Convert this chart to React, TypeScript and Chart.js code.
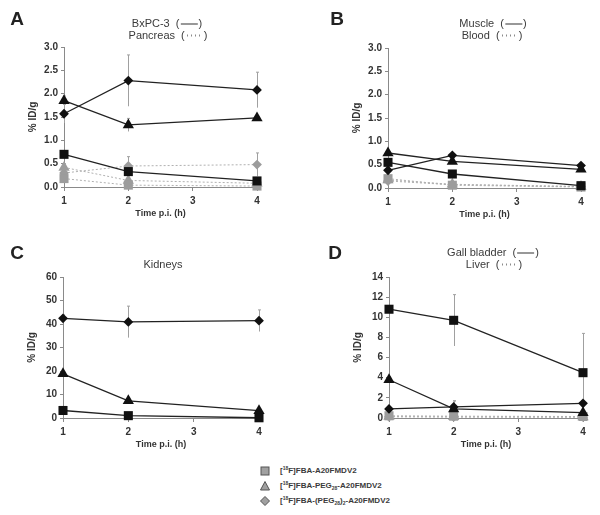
import React, { useEffect, useRef } from "react";
import { Chart, registerables } from "chart.js";

Chart.register(...registerables);

// ---------- data ----------
const hours = [1, 2, 4];
const xTickValues = [1, 2, 3, 4];

// Panel A: BxPC-3 (solid) / Pancreas (dotted)
const aTumorFBA = [0.7, 0.33, 0.13];
const aTumorFBAErr = [0.05, 0.05, 0.03];
const aTumorPEG = [1.85, 1.33, 1.48];
const aTumorPEGErr = [0.1, 0.14, 0.05];
const aTumorPEG2 = [1.57, 2.28, 2.08];
const aTumorPEG2Err = [0.2, 0.55, 0.38];
const aPancFBA = [0.18, 0.04, 0.02];
const aPancFBAErr = [0.05, 0.02, 0.01];
const aPancPEG = [0.42, 0.14, 0.08];
const aPancPEGErr = [0.08, 0.05, 0.02];
const aPancPEG2 = [0.3, 0.45, 0.48];
const aPancPEG2Err = [0.1, 0.2, 0.25];

// Panel B: Muscle (solid) / Blood (dotted)
const bMuscFBA = [0.55, 0.3, 0.05];
const bMuscFBAErr = [0.05, 0.04, 0.01];
const bMuscPEG = [0.75, 0.57, 0.4];
const bMuscPEGErr = [0.06, 0.05, 0.04];
const bMuscPEG2 = [0.38, 0.7, 0.48];
const bMuscPEG2Err = [0.05, 0.06, 0.04];
const bBloodFBA = [0.2, 0.06, 0.02];
const bBloodFBAErr = [0.03, 0.01, 0.01];
const bBloodPEG = [0.17, 0.08, 0.03];
const bBloodPEGErr = [0.02, 0.01, 0.01];
const bBloodPEG2 = [0.15, 0.07, 0.03];
const bBloodPEG2Err = [0.02, 0.01, 0.01];

// Panel C: Kidneys
const cKidFBA = [3.2, 1.0, 0.1];
const cKidFBAErr = [0.5, 0.2, 0.05];
const cKidPEG = [18.8, 7.3, 3.1];
const cKidPEGErr = [1.0, 0.8, 0.5];
const cKidPEG2 = [42.4, 40.9, 41.4];
const cKidPEG2Err = [1.5, 6.7, 4.6];

// Panel D: Gall bladder (solid) / Liver (dotted)
const dGallFBA = [10.8, 9.7, 4.5];
const dGallFBAErr = [0.3, 2.55, 3.9];
const dGallPEG = [3.8, 0.9, 0.53];
const dGallPEGErr = [0.3, 0.8, 0.1];
const dGallPEG2 = [0.9, 1.1, 1.46];
const dGallPEG2Err = [0.2, 0.6, 0.2];
const dLiverFBA = [0.22, 0.18, 0.15];
const dLiverFBAErr = [0.03, 0.03, 0.02];
const dLiverPEG = [0.15, 0.12, 0.1];
const dLiverPEGErr = [0.02, 0.02, 0.02];
const dLiverPEG2 = [0.12, 0.1, 0.08];
const dLiverPEG2Err = [0.02, 0.02, 0.02];

const compoundLabels = ["FBA-A20FMDV2", "FBA-PEG28-A20FMDV2", "FBA-(PEG28)2-A20FMDV2"];

// ---------- helpers ----------
const FONT = "'Liberation Sans', Arial, sans-serif";
const BLACK = "#111111";
const GRAY = "#9c9c9c";

type Shape = "rect" | "triangle" | "rectRot";
const radiusFor: Record<Shape, number> = { rect: 6.4, triangle: 6.5, rectRot: 4.9 };

function series(label: string, values: number[], errs: number[], shape: Shape, solid: boolean) {
  return {
    label,
    data: hours.map((h, i) => ({ x: h, y: values[i] })),
    errors: errs,
    borderColor: solid ? "#222222" : "#b0b0b0",
    borderWidth: solid ? 1.3 : 1,
    borderDash: solid ? [] : [2, 2],
    pointStyle: shape,
    pointRadius: radiusFor[shape],
    pointBackgroundColor: solid ? BLACK : GRAY,
    pointBorderColor: solid ? BLACK : GRAY,
    pointBorderWidth: 0,
    clip: false as any,
    tension: 0,
  };
}

const errorBarPlugin = {
  id: "errorBars",
  beforeDatasetsDraw(chart: any) {
    const { ctx } = chart;
    const xs = chart.scales.x;
    const ys = chart.scales.y;
    ctx.save();
    ctx.strokeStyle = "#a0a0a0";
    ctx.lineWidth = 1;
    chart.data.datasets.forEach((ds: any) => {
      const errs: number[] = ds.errors;
      if (!errs) return;
      ds.data.forEach((pt: any, j: number) => {
        const e = errs[j];
        if (!e) return;
        const px = Math.round(xs.getPixelForValue(pt.x)) + 0.5;
        const top = ys.getPixelForValue(pt.y + e);
        const bot = ys.getPixelForValue(Math.max(pt.y - e, ys.min));
        ctx.beginPath();
        ctx.moveTo(px, top);
        ctx.lineTo(px, bot);
        ctx.moveTo(px - 1.5, top);
        ctx.lineTo(px + 1.5, top);
        ctx.stroke();
      });
    });
    ctx.restore();
  },
};

interface PanelProps {
  left: number;
  top: number;
  width: number;
  height: number;
  padding: { left: number; right: number; top: number; bottom: number };
  yMax: number;
  yStep: number;
  decimals: number;
  datasets: any[];
}

function Panel(p: PanelProps) {
  const ref = useRef<HTMLCanvasElement | null>(null);
  useEffect(() => {
    if (!ref.current) return;
    const tickFont = { family: FONT, size: 10, weight: "bold" as const };
    const titleFont = { family: FONT, size: 9, weight: "bold" as const };
    const chart = new Chart(ref.current, {
      type: "line",
      data: { datasets: p.datasets },
      options: {
        animation: false,
        responsive: false,
        devicePixelRatio: 1,
        layout: { padding: p.padding },
        plugins: { legend: { display: false }, tooltip: { enabled: false } },
        scales: {
          x: {
            type: "linear",
            min: 1,
            max: 4,
            afterBuildTicks: (s: any) => {
              s.ticks = xTickValues.map((v) => ({ value: v }));
            },
            ticks: { font: tickFont, color: "#333", padding: 4, callback: (v: any) => String(v) },
            grid: { drawOnChartArea: false, drawTicks: true, tickLength: 4, color: "#8a8a8a" },
            border: { color: "#8a8a8a", width: 1 },
            title: {
              display: true,
              text: "Time p.i. (h)",
              font: titleFont,
              color: "#333",
              padding: { top: 0, bottom: 2 },
            },
            afterFit: (s: any) => {
              s.height = 34;
            },
          },
          y: {
            type: "linear",
            min: 0,
            max: p.yMax,
            ticks: {
              stepSize: p.yStep,
              font: tickFont,
              color: "#333",
              padding: 3,
              callback: (v: any) => Number(v).toFixed(p.decimals),
            },
            grid: { drawOnChartArea: false, drawTicks: true, tickLength: 3, color: "#8a8a8a" },
            border: { color: "#8a8a8a", width: 1 },
            title: {
              display: true,
              text: "% ID/g",
              font: { family: FONT, size: 10, weight: "bold" },
              color: "#333",
              padding: { top: 3, bottom: 0 },
            },
            afterFit: (s: any) => {
              s.width = 40;
            },
          },
        },
      } as any,
      plugins: [errorBarPlugin],
    });
    return () => chart.destroy();
  }, []);
  return (
    <canvas
      ref={ref}
      width={p.width}
      height={p.height}
      style={{ position: "absolute", left: p.left, top: p.top, width: p.width, height: p.height }}
    />
  );
}

function Centered(props: { x: number; y: number; size: number; bold?: boolean; children: React.ReactNode }) {
  return (
    <div
      style={{
        position: "absolute",
        left: props.x,
        top: props.y,
        transform: "translate(-50%, -50%)",
        whiteSpace: "nowrap",
        fontFamily: FONT,
        fontSize: props.size,
        fontWeight: props.bold ? "bold" : "normal",
        color: props.bold ? "#222" : "#3a3a3a",
        lineHeight: 1,
      }}
    >
      {props.children}
    </div>
  );
}

const SolidKey = () => (
  <span
    style={{
      display: "inline-block",
      width: 17,
      height: 0,
      borderTop: "1.5px solid #333",
      verticalAlign: "middle",
      margin: "0 1px",
    }}
  />
);
const DottedKey = () => (
  <span
    style={{
      display: "inline-block",
      width: 16,
      height: 1.5,
      background: "repeating-linear-gradient(to right, #8a8a8a 0 1.5px, transparent 1.5px 4px)",
      verticalAlign: "middle",
      margin: "0 1px 0 2px",
    }}
  />
);

function LegendMarker({ shape }: { shape: Shape }) {
  return (
    <svg width={12} height={12} style={{ position: "absolute", left: -6, top: -6 }}>
      {shape === "rect" && <rect x={2} y={2} width={8} height={8} fill="#a0a0a0" stroke="#555" strokeWidth={1} />}
      {shape === "triangle" && <polygon points="6,1.5 10.5,10 1.5,10" fill="#a0a0a0" stroke="#555" strokeWidth={1} />}
      {shape === "rectRot" && <polygon points="6,1.5 10.5,6 6,10.5 1.5,6" fill="#a0a0a0" stroke="#555" strokeWidth={1} />}
    </svg>
  );
}

function Sup({ children }: { children: React.ReactNode }) {
  return <span style={{ fontSize: 5, position: "relative", top: -3 }}>{children}</span>;
}
function Sub({ children }: { children: React.ReactNode }) {
  return <span style={{ fontSize: 5, position: "relative", top: 2 }}>{children}</span>;
}

function legendText(i: number) {
  if (i === 0)
    return (
      <>
        [<Sup>18</Sup>F]FBA-A20FMDV2
      </>
    );
  if (i === 1)
    return (
      <>
        [<Sup>18</Sup>F]FBA-PEG<Sub>28</Sub>-A20FMDV2
      </>
    );
  return (
    <>
      [<Sup>18</Sup>F]FBA-(PEG<Sub>28</Sub>)<Sub>2</Sub>-A20FMDV2
    </>
  );
}

const legendShapes: Shape[] = ["rect", "triangle", "rectRot"];
const legendRowsY = [471, 486, 501];

export default function App() {
  const dsA = [
    series("A-sq", aTumorFBA, aTumorFBAErr, "rect", true),
    series("A-tri", aTumorPEG, aTumorPEGErr, "triangle", true),
    series("A-dia", aTumorPEG2, aTumorPEG2Err, "rectRot", true),
    series("P-sq", aPancFBA, aPancFBAErr, "rect", false),
    series("P-tri", aPancPEG, aPancPEGErr, "triangle", false),
    series("P-dia", aPancPEG2, aPancPEG2Err, "rectRot", false),
  ];
  const dsB = [
    series("M-sq", bMuscFBA, bMuscFBAErr, "rect", true),
    series("M-tri", bMuscPEG, bMuscPEGErr, "triangle", true),
    series("M-dia", bMuscPEG2, bMuscPEG2Err, "rectRot", true),
    series("B-sq", bBloodFBA, bBloodFBAErr, "rect", false),
    series("B-tri", bBloodPEG, bBloodPEGErr, "triangle", false),
    series("B-dia", bBloodPEG2, bBloodPEG2Err, "rectRot", false),
  ];
  const dsC = [
    series("K-sq", cKidFBA, cKidFBAErr, "rect", true),
    series("K-tri", cKidPEG, cKidPEGErr, "triangle", true),
    series("K-dia", cKidPEG2, cKidPEG2Err, "rectRot", true),
  ];
  const dsD = [
    series("G-sq", dGallFBA, dGallFBAErr, "rect", true),
    series("G-tri", dGallPEG, dGallPEGErr, "triangle", true),
    series("G-dia", dGallPEG2, dGallPEG2Err, "rectRot", true),
    series("L-sq", dLiverFBA, dLiverFBAErr, "rect", false),
    series("L-tri", dLiverPEG, dLiverPEGErr, "triangle", false),
    series("L-dia", dLiverPEG2, dLiverPEG2Err, "rectRot", false),
  ];

  return (
    <div style={{ position: "fixed", left: 0, top: 0, width: 600, height: 515, background: "#fff", overflow: "hidden" }}>
      <Panel left={0} top={0} width={300} height={225} padding={{ left: 24, right: 43, top: 47, bottom: 4 }} yMax={3} yStep={0.5} decimals={1} datasets={dsA} />
      <Panel left={300} top={0} width={300} height={225} padding={{ left: 48, right: 19, top: 48, bottom: 3 }} yMax={3} yStep={0.5} decimals={1} datasets={dsB} />
      <Panel left={0} top={225} width={300} height={230} padding={{ left: 23, right: 41, top: 52, bottom: 3 }} yMax={60} yStep={10} decimals={0} datasets={dsC} />
      <Panel left={300} top={225} width={300} height={230} padding={{ left: 49, right: 17, top: 52, bottom: 3 }} yMax={14} yStep={2} decimals={0} datasets={dsD} />

      <Centered x={17} y={18} size={19} bold>A</Centered>
      <Centered x={167} y={23} size={11}>BxPC-3 &nbsp;(<SolidKey />)</Centered>
      <Centered x={168} y={35} size={11}>Pancreas &nbsp;(<DottedKey />)</Centered>

      <Centered x={337} y={18} size={19} bold>B</Centered>
      <Centered x={493} y={23} size={11}>Muscle &nbsp;(<SolidKey />)</Centered>
      <Centered x={492} y={35} size={11}>Blood &nbsp;(<DottedKey />)</Centered>

      <Centered x={17} y={252} size={19} bold>C</Centered>
      <Centered x={163} y={264} size={11}>Kidneys</Centered>

      <Centered x={335} y={252} size={19} bold>D</Centered>
      <Centered x={493} y={252} size={11}>Gall bladder &nbsp;(<SolidKey />)</Centered>
      <Centered x={494} y={264} size={11}>Liver &nbsp;(<DottedKey />)</Centered>

      {legendShapes.map((s, i) => (
        <div key={compoundLabels[i]} style={{ position: "absolute", left: 265, top: legendRowsY[i] }}>
          <LegendMarker shape={s} />
          <div
            style={{
              position: "absolute",
              left: 15,
              top: -5,
              whiteSpace: "nowrap",
              fontFamily: FONT,
              fontSize: 8,
              fontWeight: "bold",
              color: "#3a3a3a",
              lineHeight: "10px",
            }}
          >
            {legendText(i)}
          </div>
        </div>
      ))}
    </div>
  );
}
